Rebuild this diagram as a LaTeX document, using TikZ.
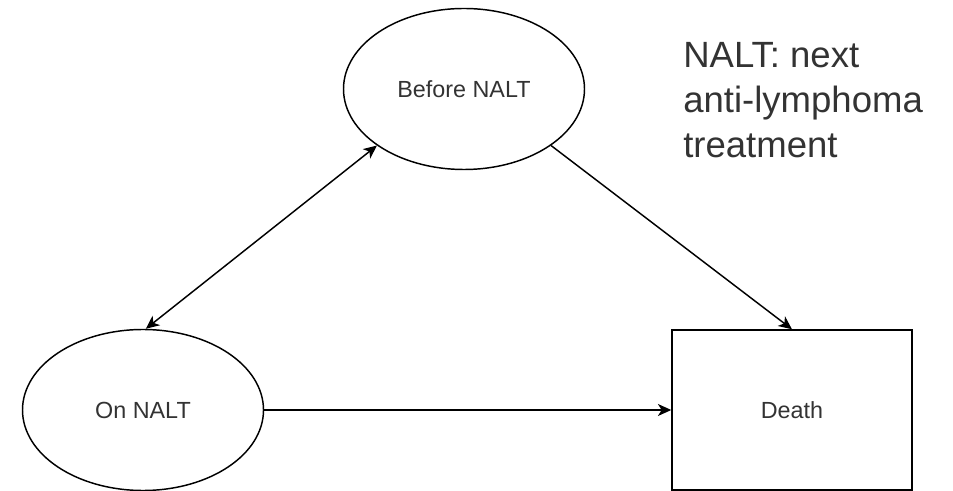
\documentclass[tikz,border=0pt]{standalone}
\usepackage{fontspec}
\setmainfont{Liberation Sans}
\usetikzlibrary{shapes.geometric,arrows.meta}
\definecolor{txt}{HTML}{333333}
\begin{document}
\begin{tikzpicture}[x=0.75pt,y=-0.75pt,
  state/.style={ellipse,draw,line width=1.1pt,minimum width=180.75pt,minimum height=120.75pt,inner sep=0pt,font=\fontsize{17.5}{21}\selectfont,text=txt},
  endbox/.style={rectangle,draw,line width=1.1pt,minimum width=180pt,minimum height=120pt,inner sep=0pt,font=\fontsize{17.5}{21}\selectfont,text=txt},
  tip/.style={Stealth[length=10pt,width=9pt,inset=2.8pt]},
  conn/.style={line width=1.1pt,-{Stealth[length=10pt,width=9pt,inset=2.8pt]}},
  note/.style={align=left,anchor=north west,inner sep=0pt,font=\fontsize{27.4}{33.7}\selectfont,text=txt}]
\useasboundingbox (0,0) rectangle (953,491);
\node[state] (bn) at (464,89) {Before NALT};
\node[state] (on) at (143,410) {On NALT};
\node[endbox] (dt) at (792,410) {Death};
\node[note] (legend) at (683,42) {NALT: next\\anti-lymphoma\\treatment};
\draw[line width=1.1pt,{Stealth[length=10pt,width=9pt,inset=2.8pt]}-{Stealth[length=10pt,width=9pt,inset=2.8pt]}] (bn.213.7) -- (on.88);
\draw[conn] (bn.-33.5) -- (dt.north);
\draw[conn] (on.east) -- (dt.west);
\end{tikzpicture}
\end{document}
